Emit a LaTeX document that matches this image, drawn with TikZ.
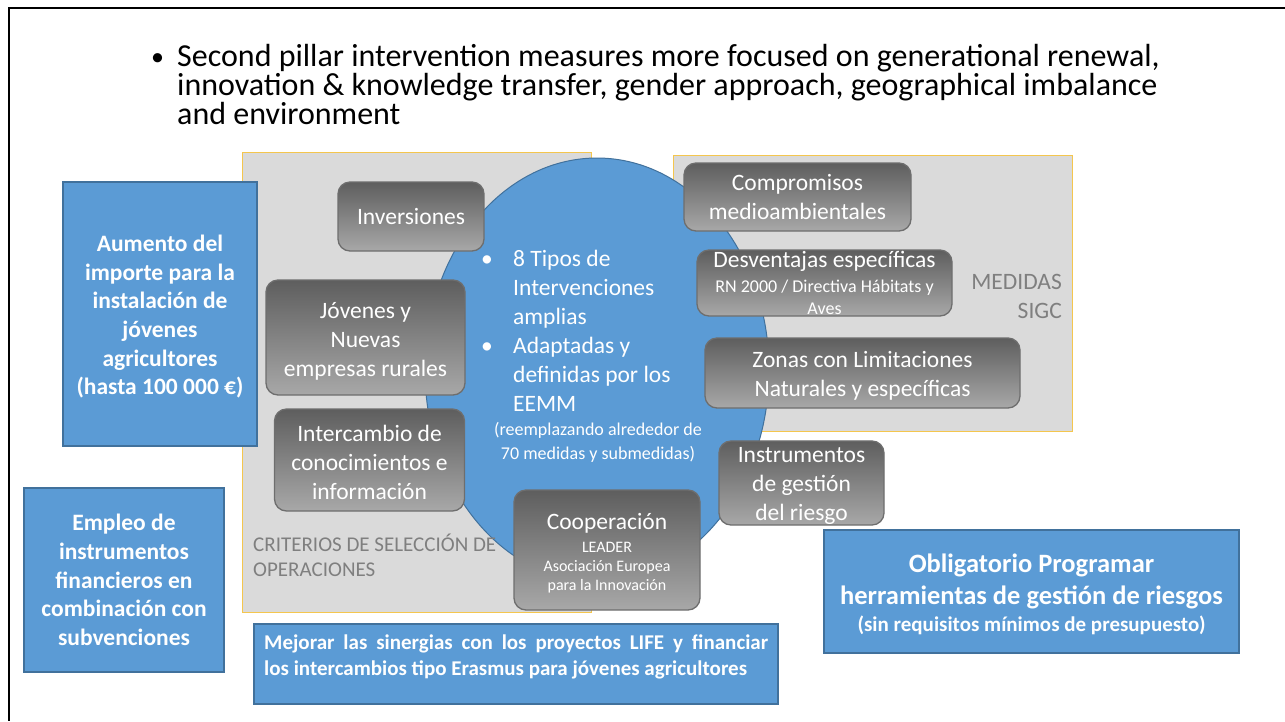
\documentclass[tikz,border=0pt]{standalone}
\usepackage{fontspec}
\setmainfont{Carlito}
\usetikzlibrary{shapes.geometric}
\definecolor{blueF}{HTML}{5B9BD5}
\definecolor{blueD}{HTML}{41719C}
\definecolor{grayBG}{HTML}{DADADA}
\definecolor{goldL}{HTML}{F4C64E}
\definecolor{boxTop}{HTML}{5E5E5E}
\definecolor{boxBot}{HTML}{A8A8A8}
\definecolor{boxEdge}{HTML}{6E6E6E}
\definecolor{labelGray}{HTML}{7F7F7F}
\tikzset{
  gbox/.style={draw=boxEdge, line width=1.3pt, rounded corners=12pt, top color=boxTop, bottom color=boxBot,
    text=white, align=center, inner sep=0pt, font=\fontsize{23.5}{29}\selectfont},
  bbox/.style={draw=blueD, line width=1.2pt, fill=blueF, text=white, align=center, inner sep=0pt,
    font=\bfseries\fontsize{23.5}{28.6}\selectfont},
  area/.style={draw=goldL, line width=1pt, fill=grayBG},
  graylabel/.style={text=labelGray, inner sep=0pt},
}
\begin{document}
\begin{tikzpicture}[x=1pt,y=-1pt]
\useasboundingbox (0,0) rectangle (1285,721);
\fill[white] (0,0) rectangle (1285,721);
% frame
\coordinate (ftl) at (9,7.5);
\coordinate (ftr) at (1285,7.5);
\coordinate (fbl) at (9,721);
\draw[line width=2pt, black] (ftr) -- (ftl) -- (fbl);
% title (base anchor = baseline of last line)
\node[anchor=base west, align=left, inner sep=0pt, font=\fontsize{32}{27}\selectfont] (title) at (151,124)
  {\makebox[26pt][l]{\raisebox{1pt}{\fontsize{26}{26}\selectfont•}}Second pillar intervention measures more focused on generational renewal,\\
   \hspace*{26pt}innovation \& knowledge transfer, gender approach, geographical imbalance\\
   \hspace*{26pt}and environment};
% background areas
\path[area] (242,152) rectangle (591,612);
\path[area] (673,155) rectangle (1072,431);
% central ellipse
\node[ellipse, draw=blueD, line width=1pt, fill=blueF, minimum width=344pt, minimum height=424pt, inner sep=0pt] (circ) at (597,370) {};
\node[anchor=west, align=left, inner sep=0pt, text=white, font=\fontsize{23.5}{29}\selectfont] (ctext) at (481,331)
  {\makebox[32pt][l]{•}8 Tipos de\\
   \hspace*{32pt}Intervenciones\\
   \hspace*{32pt}amplias\\
   \makebox[32pt][l]{•}Adaptadas y\\
   \hspace*{32pt}definidas por los\\
   \hspace*{32pt}EEMM};
\node[align=center, inner sep=0pt, text=white, font=\fontsize{18}{24}\selectfont] (cnote) at (598,442)
  {(reemplazando alrededor de\\70 medidas y submedidas)};
% labels of areas
\node[graylabel, anchor=west, align=left, font=\fontsize{21}{25}\selectfont] (crit) at (253,555)
  {CRITERIOS DE SELECCIÓN DE\\OPERACIONES};
\node[graylabel, anchor=east, align=right, font=\fontsize{23.5}{29}\selectfont] (med) at (1062,296)
  {MEDIDAS\\SIGC};
% gray boxes
\node[gbox, minimum width=146pt, minimum height=69pt] (inv) at (411,216.5) {Inversiones};
\node[gbox, minimum width=199pt, minimum height=115pt] (jov) at (365.5,337.5) {\rule{0pt}{23pt}Jóvenes y\\Nuevas\\empresas rurales};
\node[gbox, minimum width=190pt, minimum height=102pt] (inter) at (369.5,460) {\rule{0pt}{22pt}Intercambio de\\conocimientos e\\información};
\node[gbox, minimum width=227pt, minimum height=68pt] (comp) at (797.5,197) {Compromisos\\medioambientales};
\node[gbox, align=flush center, minimum width=255pt, minimum height=66pt, text width=255pt] (desv) at (824.5,283)
  {Desventajas específicas\par\vspace{3pt}{\fontsize{18}{22}\selectfont RN 2000 / Directiva Hábitats y\\Aves\par}};
\node[gbox, minimum width=315pt, minimum height=70pt] (zonas) at (862.5,373) {\rule{0pt}{22pt}Zonas con Limitaciones\\Naturales y específicas};
\node[gbox, minimum width=165pt, minimum height=82pt] (instr) at (801.5,483) {\rule{0pt}{22pt}Instrumentos\\de gestión\\del riesgo};
\node[gbox, align=flush center, minimum width=186pt, minimum height=120pt, text width=186pt] (coop) at (607,550)
  {\rule{0pt}{23pt}Cooperación\par\vspace{4pt}{\fontsize{16}{19}\selectfont LEADER\\Asociación Europea\\para la Innovación\par}};
% blue boxes
\node[bbox, minimum width=194pt, minimum height=264pt] (aum) at (160,314)
  {\rule{0pt}{22pt}Aumento del\\importe para la\\instalación de\\jóvenes\\agricultores\\(hasta 100 000 €)};
\node[bbox, minimum width=200pt, minimum height=184pt] (emp) at (124,580)
  {Empleo de\\instrumentos\\financieros en\\combinación con\\subvenciones};
\node[bbox, align=flush center, minimum width=415pt, minimum height=123pt, text width=415pt] (obl) at (1031.5,591.5)
  {\rule{0pt}{25pt}{\fontsize{26.5}{32}\selectfont Obligatorio Programar\\herramientas de gestión de riesgos\par}\vspace{1pt}{\fontsize{21}{26}\selectfont (sin requisitos mínimos de presupuesto)\par}};
\node[bbox, minimum width=524pt, minimum height=80pt] (mej) at (516,664) {};
\node[anchor=north west, align=left, inner sep=0pt, text=white, font=\bfseries\fontsize{21}{26}\selectfont] (mejtxt) at (264,635)
  {\makebox[504pt][s]{Mejorar las sinergias con los proyectos LIFE y financiar}\\
   los intercambios tipo Erasmus para jóvenes agricultores};
\end{tikzpicture}
\end{document}
